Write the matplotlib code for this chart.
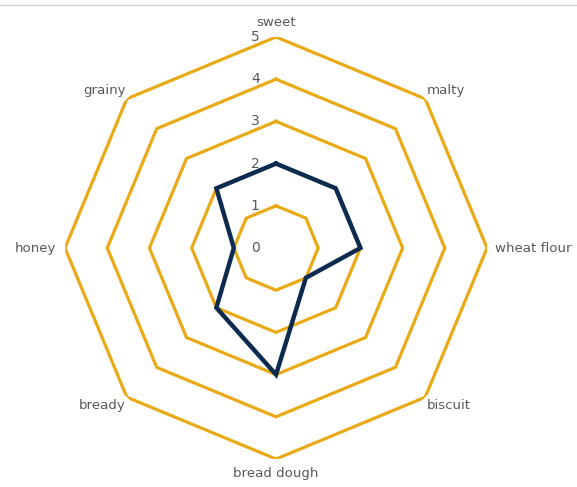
import numpy as np
import matplotlib.pyplot as plt
from matplotlib.lines import Line2D

categories = ["sweet", "malty", "wheat flour", "biscuit", "bread dough", "bready", "honey", "grainy"]
values = [2, 2, 2, 1, 3, 2, 1, 2]
rings = [1, 2, 3, 4, 5]
tick_labels = ["0", "1", "2", "3", "4", "5"]

gold = "#E9AA16"
navy = "#0D2B4E"
grey = "#595959"

n = len(categories)
theta = np.linspace(0, 2 * np.pi, n, endpoint=False)
theta_closed = np.append(theta, theta[0])

fig = plt.figure(figsize=(5.77, 4.87), dpi=100)
ax = fig.add_axes([0.1127, 0.0575, 0.7314, 0.8665], polar=True)
ax.set_theta_offset(np.pi / 2)
ax.set_theta_direction(-1)
ax.set_ylim(0, 5)
ax.grid(False)
ax.spines["polar"].set_visible(False)
ax.set_xticks([])
ax.set_yticks([])
ax.patch.set_alpha(0)

for r in rings:
    ax.plot(theta_closed, [r] * (n + 1), color=gold, lw=2.3, solid_joinstyle="miter", zorder=1)

vals = values + values[:1]
ax.plot(theta_closed, vals, color=navy, lw=3.2, solid_joinstyle="miter", zorder=3)

# radial tick labels on the left of the top axis
for i, lab in enumerate(tick_labels):
    ax.annotate(lab, xy=(0, i), xytext=(-15, 0), textcoords="offset points",
                ha="center", va="center", fontsize=10, color=grey,
                family="DejaVu Sans", annotation_clip=False)

# category labels
for t, lab in zip(theta, categories):
    deg = np.degrees(t) % 360
    if deg == 0:
        ha, va, r = "center", "bottom", 5.2
    elif deg == 180:
        ha, va, r = "center", "top", 5.2
    elif deg == 90:
        ha, va, r = "left", "center", 5.2
    elif deg == 270:
        ha, va, r = "right", "center", 5.2
    elif deg < 90:
        ha, va, r = "left", "bottom", 5.05
    elif deg < 180:
        ha, va, r = "left", "top", 5.05
    elif deg < 270:
        ha, va, r = "right", "top", 5.05
    else:
        ha, va, r = "right", "bottom", 5.05
    ax.text(t, r, lab, ha=ha, va=va, fontsize=9.6, color=grey, family="DejaVu Sans")

fig.add_artist(Line2D([0, 1], [0.99, 0.99], transform=fig.transFigure, color="#D9D9D9", lw=1))

fig.savefig("out.png", dpi=100)
